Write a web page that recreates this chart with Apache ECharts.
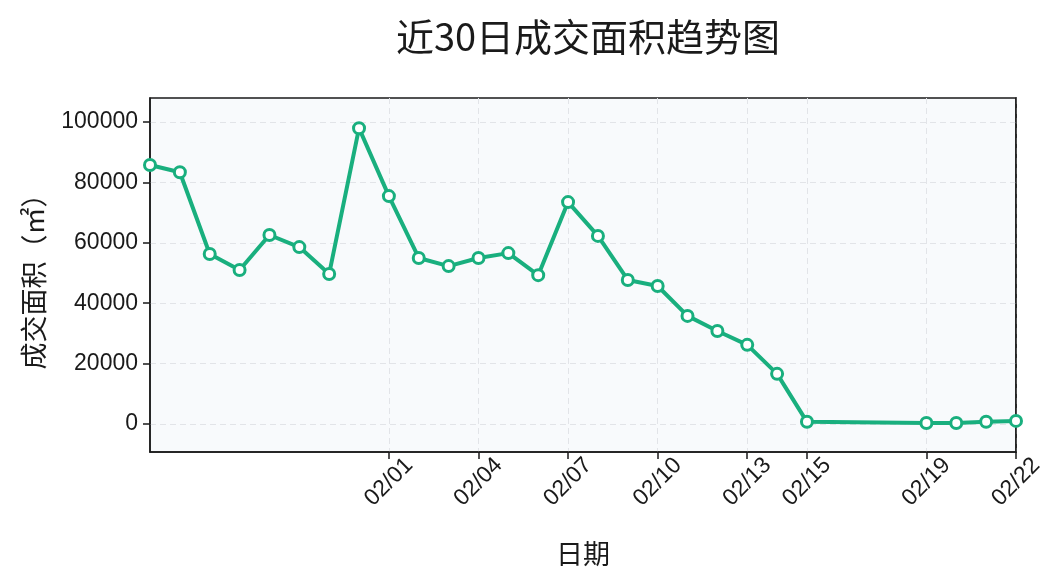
<!DOCTYPE html>
<html>
<head>
<meta charset="utf-8">
<script src="https://cdn.jsdelivr.net/npm/echarts@6/dist/echarts.min.js"></script>
<style>html,body{margin:0;padding:0;background:#fff}#c{width:1064px;height:585px}</style>
</head>
<body>
<div id="c"></div>
<script>
const dates = ['2025-01-24','2025-01-25','2025-01-26','2025-01-27','2025-01-28','2025-01-29','2025-01-30','2025-01-31',
  '2025-02-01','2025-02-02','2025-02-03','2025-02-04','2025-02-05','2025-02-06','2025-02-07','2025-02-08',
  '2025-02-09','2025-02-10','2025-02-11','2025-02-12','2025-02-13','2025-02-14','2025-02-15',
  '2025-02-19','2025-02-20','2025-02-21','2025-02-22'];
const areas = [85800,83400,56300,51000,62600,58600,49700,98000,
  75500,55000,52300,55000,56600,49300,73500,62300,
  47700,45700,35800,30800,26200,16600,700,
  300,300,700,1000];
const xTickDates = ['2025-02-01','2025-02-04','2025-02-07','2025-02-10','2025-02-13','2025-02-15','2025-02-19','2025-02-22'];
const yTicks = [0,20000,40000,60000,80000,100000];
const xRange = ['2025-01-24','2025-02-22'];
const yRange = [-9300,108000];

const ts = s => { const [y,m,d] = s.split('-').map(Number); return Date.UTC(y,m-1,d); };
const fmt = v => { const d = new Date(v); return String(d.getUTCMonth()+1).padStart(2,'0') + '/' + String(d.getUTCDate()).padStart(2,'0'); };

const chart = echarts.init(document.getElementById('c'), null, {renderer:'canvas'});
const green = '#19af7e';
const ink = '#1a1a1a';
const tickFont = 'Liberation Sans, Arial, sans-serif';
const cjk = '"Noto Sans CJK SC", sans-serif';
const gridLine = {show: true, lineStyle: {color: '#e2e4e8', type: [6,4], width: 1}};
chart.setOption({
  animation: false,
  title: {
    text: '近30日成交面积趋势图',
    left: 583, top: 13, textAlign: 'center',
    textStyle: {fontFamily: cjk, fontSize: 38, fontWeight: 'normal', color: ink}
  },
  grid: {
    left: 150, right: 48, top: 98, bottom: 133,
    show: true, backgroundColor: '#f8fafc', borderColor: ink, borderWidth: 1.5
  },
  xAxis: {
    type: 'value',
    min: ts(xRange[0]), max: ts(xRange[1]),
    name: '日期', nameLocation: 'middle', nameGap: 88,
    nameTextStyle: {fontFamily: cjk, fontSize: 27, color: ink},
    axisLine: {show: true, onZero: false, lineStyle: {color: ink, width: 1.5}},
    axisTick: {show: true, length: 7, lineStyle: {color: ink, width: 1.5}, customValues: xTickDates.map(ts)},
    axisLabel: {customValues: xTickDates.map(ts), formatter: fmt, rotate: 45, align: 'center', verticalAlign: 'middle',
      fontFamily: tickFont, fontSize: 23, color: ink, margin: 30},
    splitLine: gridLine
  },
  yAxis: [{
    type: 'value',
    min: yRange[0], max: yRange[1],
    name: '成交面积（㎡）', nameLocation: 'middle', nameRotate: 90, nameGap: 103,
    nameTextStyle: {fontFamily: cjk, fontSize: 27, color: ink},
    axisLine: {show: true, onZero: false, lineStyle: {color: ink, width: 1.5}},
    axisTick: {show: true, length: 7, lineStyle: {color: ink, width: 1.5}, customValues: yTicks},
    axisLabel: {customValues: yTicks, formatter: v => String(v), fontFamily: tickFont, fontSize: 23, color: ink, margin: 12},
    splitLine: gridLine
  }, {
    type: 'value', position: 'right', z: 10,
    min: yRange[0], max: yRange[1],
    axisLine: {show: true, onZero: false, lineStyle: {color: ink, width: 1.5}},
    axisTick: {show: false}, axisLabel: {show: false}, splitLine: {show: false}
  }],
  series: [{
    type: 'line',
    data: dates.map((d,i) => [ts(d), areas[i]]),
    symbol: 'circle', symbolSize: 11,
    lineStyle: {color: green, width: 4},
    itemStyle: {color: '#fff', borderColor: green, borderWidth: 3},
    clip: false, z: 12
  }]
});
</script>
</body>
</html>
